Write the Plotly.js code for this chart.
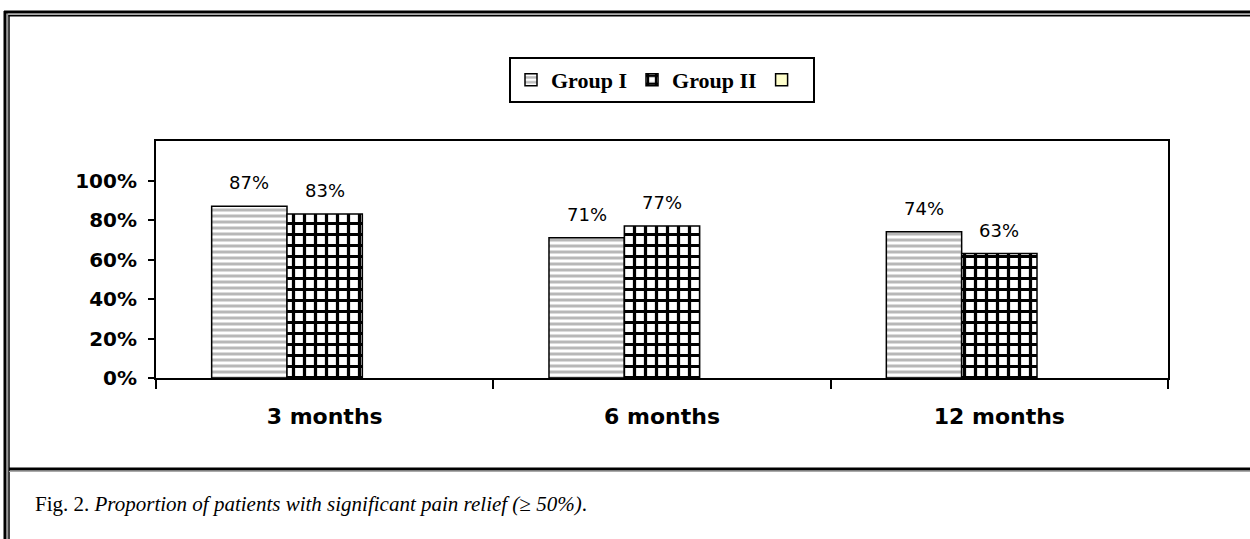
<!DOCTYPE html>
<html>
<head>
<meta charset="utf-8">
<script src="https://cdn.plot.ly/plotly-3.0.1.min.js"></script>
<style>html,body{margin:0;padding:0;background:#fff;}#chart{width:1250px;height:539px;}</style>
</head>
<body>
<div id="chart"></div>
<script>
// ---- data ----
const categories = ['3 months', '6 months', '12 months'];
const groupI = [87, 71, 74];
const groupII = [83, 77, 63];
const groupIII = [null, null, null];
const seriesNames = ['Group I', 'Group II', ' '];
const yTickVals = [0, 20, 40, 60, 80, 100];
const yTickText = ['0%', '20%', '40%', '60%', '80%', '100%'];
const captionLead = 'Fig. 2. ';
const captionText = 'Proportion of patients with significant pain relief (≥ 50%)';

// ---- layout helpers ----
const W = 1250, H = 539;
const M = {l: 156, r: 82, t: 141, b: 161};
const PW = W - M.l - M.r, PH = H - M.t - M.b;
const px = x => (x - M.l) / PW;
const py = y => (H - M.b - y) / PH;
const bargap = 0.33;
const slot = (1 - bargap) / 3;

const barLine = {color: '#000', width: 1.5};
const traces = [
  {type: 'bar', x: categories, y: groupI, name: seriesNames[0],
   marker: {color: '#fff', line: barLine,
            pattern: {shape: '-', fgcolor: '#B8B8B8', bgcolor: '#fff', size: 6, solidity: 0.5, fillmode: 'replace'}}},
  {type: 'bar', x: categories, y: groupII, name: seriesNames[1],
   marker: {color: '#fff', line: barLine,
            pattern: {shape: '+', fgcolor: '#000', bgcolor: '#fff', size: 11, solidity: 0.5, fillmode: 'replace'}}},
  {type: 'bar', x: categories, y: groupIII, name: seriesNames[2],
   marker: {color: '#FFFFCC', line: barLine}}
];

const annotations = [];
[groupI, groupII].forEach((vals, s) => {
  vals.forEach((v, i) => {
    annotations.push({x: i + (s - 1) * slot, y: v, xref: 'x', yref: 'y',
      text: v + '%', showarrow: false, yanchor: 'bottom', yshift: 11,
      font: {family: 'DejaVu Sans', size: 18, color: '#000'}});
  });
});
annotations.push({x: px(33), y: py(504), xref: 'paper', yref: 'paper',
  xanchor: 'left', yanchor: 'middle', showarrow: false,
  text: captionLead + '<i>' + captionText + '</i>.',
  font: {family: 'Liberation Serif', size: 21, color: '#000'}});

const line = (x0, y0, x1, y1, w, c) => ({type: 'line', xref: 'paper', yref: 'paper',
  x0: px(x0), y0: py(y0), x1: px(x1), y1: py(y1), line: {color: c, width: w}});
const shapes = [
  line(5, 11, 5, 545, 3, '#000'),
  line(7.5, 13, 7.5, 545, 1, '#999'),
  line(9, 15, 9, 545, 1.5, '#000'),
  line(4, 12, 1260, 12, 3, '#000'),
  line(7, 14.3, 1260, 14.3, 1, '#999'),
  line(8.5, 15.7, 1260, 15.7, 1.5, '#000'),
  line(9, 469, 1260, 469, 3, '#000'),
  line(9, 471.5, 1260, 471.5, 1, '#aaa')
];

const layout = {
  width: W, height: H,
  margin: M,
  paper_bgcolor: '#fff', plot_bgcolor: '#fff',
  barmode: 'group', bargap: bargap, bargroupgap: 0,
  showlegend: true,
  legend: {orientation: 'h', x: 0.5, y: py(57), xanchor: 'center', yanchor: 'top',
    bordercolor: '#000', borderwidth: 2, bgcolor: '#fff', itemwidth: 30,
    font: {family: 'Liberation Serif', size: 22, color: '#000', weight: 'bold'}},
  xaxis: {type: 'category', showline: true, linewidth: 2, linecolor: '#000', mirror: true,
    ticks: 'outside', tickson: 'boundaries', ticklen: 9, tickwidth: 2, tickcolor: '#000',
    ticklabelstandoff: 18, showgrid: false, zeroline: false,
    tickfont: {family: 'DejaVu Sans', size: 22, color: '#000', weight: 'bold'}},
  yaxis: {range: [0, 120], tickvals: yTickVals, ticktext: yTickText,
    showline: true, linewidth: 2, linecolor: '#000', mirror: true,
    ticks: 'outside', ticklen: 6, tickwidth: 2, tickcolor: '#000', ticklabelstandoff: 7,
    showgrid: false, zeroline: false,
    tickfont: {family: 'DejaVu Sans', size: 20, color: '#000', weight: 'bold'}},
  annotations: annotations,
  shapes: shapes
};

Plotly.newPlot('chart', traces, layout, {displayModeBar: false, staticPlot: true});
</script>
</body>
</html>
